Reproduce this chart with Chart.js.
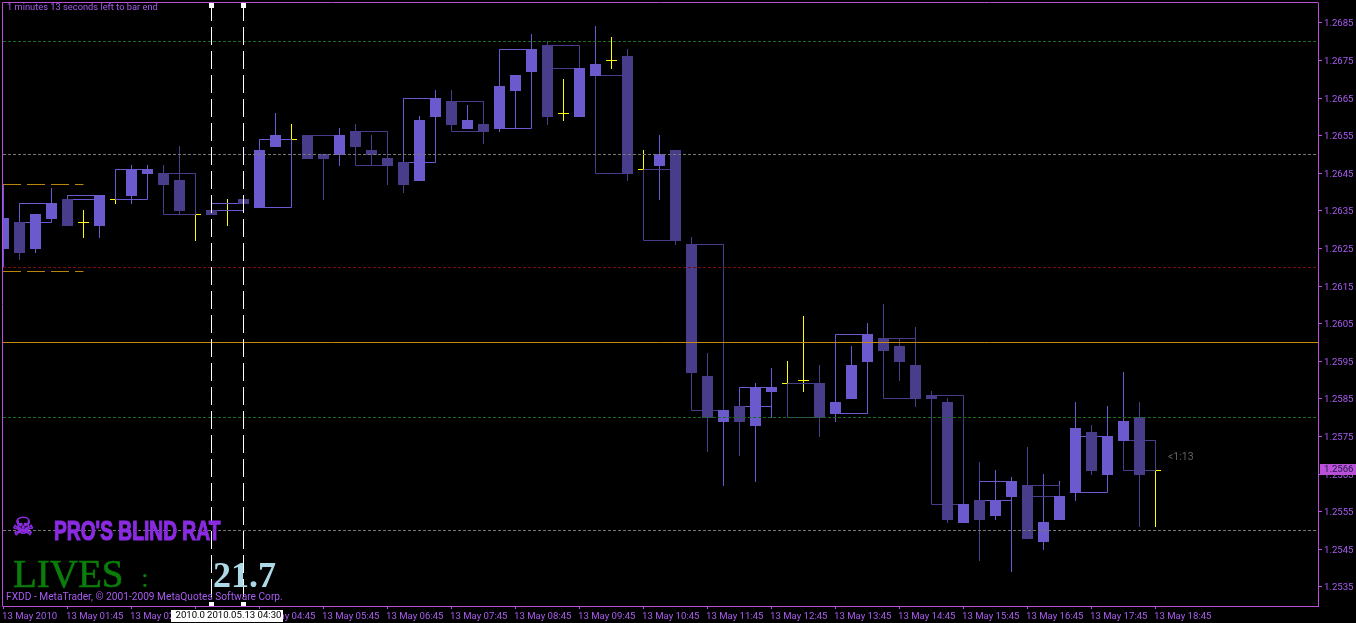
<!DOCTYPE html>
<html>
<head>
<meta charset="utf-8">
<title>EURUSD M15</title>
<script src="https://cdn.jsdelivr.net/npm/chart.js@4/dist/chart.umd.min.js"></script>
<style>
html, body { margin: 0; padding: 0; background: #000; overflow: hidden; }
canvas { display: block; }
</style>
</head>
<body>
<canvas id="priceChart" width="1356" height="623"></canvas>
<script>
const opens = [1.2625,1.2632,1.2625,1.2633,1.2638,1.2632,1.2631,1.2638,1.2639,1.2645,1.2645,1.2643,1.2634,1.2635,1.2635,1.2638,1.2636,1.2652,1.2654,1.2655,1.2650,1.2650,1.2656,1.2651,1.2649,1.2648,1.2643,1.2660,1.2664,1.2657,1.2658,1.2657,1.2667,1.2672,1.2679,1.2661,1.2660,1.2671,1.2675,1.2676,1.2646,1.2647,1.2651,1.2626,1.2591,1.2579,1.2583,1.2578,1.2587,1.2589,1.2590,1.2589,1.2581,1.2585,1.2595,1.2601,1.2599,1.2594,1.2586,1.2584,1.2552,1.2558,1.2554,1.2559,1.2562,1.2547,1.2553,1.2560,1.2576,1.2565,1.2574,1.2580,1.2566];
const highs = [1.2642,1.2632,1.2634,1.2641,1.2638,1.2635,1.2639,1.2638,1.2647,1.2647,1.2647,1.2652,1.2640,1.2635,1.2638,1.2638,1.2651,1.2661,1.2658,1.2655,1.2650,1.2657,1.2658,1.2655,1.2649,1.2648,1.2660,1.2667,1.2667,1.2663,1.2658,1.2668,1.2671,1.2682,1.2680,1.2670,1.2673,1.2684,1.2681,1.2678,1.2651,1.2655,1.2651,1.2628,1.2597,1.2582,1.2583,1.2589,1.2593,1.2595,1.2607,1.2594,1.2584,1.2599,1.2605,1.2610,1.2601,1.2604,1.2587,1.2585,1.2557,1.2568,1.2566,1.2564,1.2572,1.2565,1.2563,1.2584,1.2578,1.2583,1.2592,1.2584,1.2566];
const lows = [1.2620,1.2622,1.2624,1.2633,1.2631,1.2628,1.2628,1.2637,1.2637,1.2645,1.2642,1.2634,1.2627,1.2634,1.2631,1.2637,1.2636,1.2652,1.2650,1.2649,1.2638,1.2647,1.2652,1.2647,1.2642,1.2640,1.2643,1.2660,1.2658,1.2657,1.2653,1.2656,1.2657,1.2672,1.2658,1.2659,1.2660,1.2671,1.2673,1.2643,1.2643,1.2638,1.2626,1.2592,1.2571,1.2562,1.2570,1.2563,1.2580,1.2585,1.2587,1.2575,1.2579,1.2585,1.2595,1.2598,1.2590,1.2583,1.2585,1.2552,1.2552,1.2542,1.2553,1.2539,1.2548,1.2545,1.2553,1.2558,1.2565,1.2565,1.2574,1.2551,1.2551];
const closes = [1.2633,1.2624,1.2634,1.2637,1.2631,1.2632,1.2639,1.2638,1.2646,1.2646,1.2642,1.2635,1.2634,1.2634,1.2635,1.2637,1.2651,1.2655,1.2654,1.2649,1.2649,1.2655,1.2652,1.2650,1.2647,1.2642,1.2659,1.2665,1.2658,1.2659,1.2656,1.2668,1.2671,1.2678,1.2660,1.2661,1.2673,1.2674,1.2675,1.2645,1.2646,1.2650,1.2627,1.2592,1.2580,1.2582,1.2579,1.2588,1.2588,1.2589,1.2590,1.2580,1.2584,1.2594,1.2602,1.2598,1.2595,1.2585,1.2585,1.2553,1.2557,1.2553,1.2558,1.2563,1.2548,1.2552,1.2559,1.2577,1.2566,1.2575,1.2579,1.2565,1.2566];

const xTickBars = [0,4,8,12,16,20,24,28,32,36,40,44,48,52,56,60,64,68,72];
const xTickLabels = ['13 May 2010','13 May 01:45','13 May 02:45','13 May 03:45','13 May 04:45','13 May 05:45','13 May 06:45','13 May 07:45','13 May 08:45','13 May 09:45','13 May 10:45','13 May 11:45','13 May 12:45','13 May 13:45','13 May 14:45','13 May 15:45','13 May 16:45','13 May 17:45','13 May 18:45'];
const yTickValues = [1.2685,1.2675,1.2665,1.2655,1.2645,1.2635,1.2625,1.2615,1.2605,1.2595,1.2585,1.2575,1.2565,1.2555,1.2545,1.2535];

// horizontal levels on the chart
const greenLevels = [1.2680, 1.2580];
const grayLevels = [1.2650, 1.2550];
const redLevels = [1.2620];
const solidLevel = 1.2600;
const dayLevels = [1.2642, 1.2619];
const dayLevelEnd = 5;
const markerBars = [13, 15];

const yMin = 1.252992, yMax = 1.269029;
const xMin = -0.03125, xMax = 82.15625;
const handleTop = 1.268957, handleBottom = 1.253037;

const LIGHT = '#6a5acd', DARK = '#483d8b', YELLOW = '#ffff00';
const FRAME = '#ba4fd8', LABEL = '#a85cf0';
const AXIS_FONT = { family: 'Roboto', size: 9.6 };

const bars = opens.map((o, i) => i);
const candleColor = i => closes[i] > opens[i] ? LIGHT : closes[i] < opens[i] ? DARK : YELLOW;
const bodyBars = bars.filter(i => opens[i] !== closes[i]);
const dojiBars = bars.filter(i => opens[i] === closes[i]);

function hLine(value, color, dash, endBar) {
    return {
        type: 'line', order: 10, borderColor: color, borderWidth: 1, borderDash: dash,
        pointRadius: 0, data: [{ x: xMin, y: value }, { x: endBar === undefined ? xMax : endBar, y: value }]
    };
}

const datasets = [];

// wicks
datasets.push({
    type: 'bar', order: 50, grouped: false, barThickness: 0.001, inflateAmount: 0.5,
    backgroundColor: bars.map(candleColor),
    data: bars.map(i => ({ x: i, y: [lows[i], highs[i]] }))
});

// doji bars have no body, only the flat tick
datasets.push({
    type: 'scatter', order: 40, pointStyle: 'line', pointRadius: 5.5, pointBorderColor: YELLOW,
    pointBorderWidth: 1, showLine: false,
    data: dojiBars.map(i => ({ x: i, y: closes[i] }))
});

// 45 minute boxes, open to close of every three bars
for (let first = 1; first + 2 < opens.length; first += 3) {
    const last = first + 2;
    const o = opens[first], c = closes[last];
    datasets.push({
        type: 'line', order: 30, borderColor: c > o ? LIGHT : DARK, borderWidth: 1, pointRadius: 0,
        data: [{ x: first, y: o }, { x: last, y: o }, { x: last, y: c }, { x: first, y: c }, { x: first, y: o }]
    });
}

// bodies
datasets.push({
    type: 'bar', order: 20, grouped: false, barThickness: 10, inflateAmount: 0.5,
    backgroundColor: bodyBars.map(candleColor),
    data: bodyBars.map(i => ({ x: i, y: [Math.min(opens[i], closes[i]), Math.max(opens[i], closes[i])] }))
});

greenLevels.forEach(v => datasets.push(hLine(v, '#1c6a1c', [3, 2])));
grayLevels.forEach(v => datasets.push(hLine(v, '#777777', [3, 2])));
redLevels.forEach(v => datasets.push(hLine(v, '#7d0a0a', [3, 2])));
dayLevels.forEach(v => datasets.push(hLine(v, '#b8860b', [18, 6], dayLevelEnd)));
datasets.push(hLine(solidLevel, '#c8880c', []));

// the two dragged time markers with their square handles
markerBars.forEach(bar => datasets.push({
    type: 'line', order: 5, borderColor: '#ffffff', borderWidth: 1, borderDash: [18, 6], borderDashOffset: 2.5,
    pointStyle: 'rect', pointRadius: 3.54, pointBackgroundColor: '#ffffff', pointBorderWidth: 0,
    data: [{ x: bar, y: handleTop }, { x: bar, y: handleBottom }]
}));

// keep everything on whole pixel rows like the terminal does
const pixelRows = {
    id: 'pixelRows',
    afterLayout(chart) {
        const y = chart.scales.y;
        if (y._rowsWrapped) return;
        const orig = y.getPixelForValue.bind(y);
        y.getPixelForValue = v => Math.floor(orig(v)) + 0.5;
        y._rowsWrapped = true;
    }
};

function put(ctx, text, x, y, font, color, baseline) {
    ctx.font = font;
    ctx.fillStyle = color;
    ctx.textBaseline = baseline || 'middle';
    ctx.textAlign = 'left';
    ctx.fillText(text, x, y);
}

// same as put, with an outline to fatten thin letters
function putHeavy(ctx, text, x, y, font, color, weight, baseline) {
    put(ctx, text, x, y, font, color, baseline);
    ctx.strokeStyle = color;
    ctx.lineWidth = weight;
    ctx.strokeText(text, x, y);
}

const overlay = {
    id: 'overlay',
    afterDraw(chart) {
        const ctx = chart.ctx;
        ctx.save();
        ctx.strokeStyle = FRAME;
        ctx.lineWidth = 1;
        ctx.beginPath();
        ctx.moveTo(2.5, 606.5); ctx.lineTo(2.5, 2.5); ctx.lineTo(1318.5, 2.5);
        ctx.stroke();

        put(ctx, '1 minutes 13 seconds left to bar end', 7, 8, '9.3px Roboto', LABEL);
        put(ctx, 'FXDD - MetaTrader, \u00a9 2001-2009 MetaQuotes Software Corp.', 6, 597, '10.2px Roboto', LABEL);
        put(ctx, '<1:13', 1168, 457.5, '10.5px Roboto', '#626262');

        putHeavy(ctx, '\u2620', 12, 528, '25px "DejaVu Sans"', '#8a2be2', 0.8);

        // squeezed bold face standing in for the logo lettering
        ctx.save();
        ctx.translate(54, 540);
        ctx.scale(0.686, 1);
        putHeavy(ctx, "PRO'S BLIND RAT", 0, 0, 'bold 28px "Liberation Sans"', '#8a2be2', 1.2, 'alphabetic');
        ctx.restore();

        putHeavy(ctx, 'LIVES', 13, 587, '39px "Liberation Serif"', '#0a7d0a', 0.6, 'alphabetic');
        put(ctx, ':', 141, 587, '28px "Liberation Serif"', '#0a7d0a', 'alphabetic');
        put(ctx, '21.7', 213, 587, 'bold 36px "Liberation Serif"', '#add8e6', 'alphabetic');

        ctx.fillStyle = '#ffffff';
        ctx.fillRect(171, 610, 112, 12);
        put(ctx, '2010.0', 175.5, 616, '9.6px Roboto', '#000000');
        ctx.fillStyle = '#ffffff';
        ctx.fillRect(205, 610, 78, 12);
        put(ctx, '2010.05.13 04:30', 207, 616, '9.6px Roboto', '#000000');

        ctx.fillStyle = FRAME;
        ctx.fillRect(1320, 464, 36, 11);
        put(ctx, '1.2566', 1324, 470, '9.6px Roboto', '#1c1c44');
        ctx.restore();
    }
};

const ctx = document.getElementById('priceChart');
const myChart = new Chart(ctx, {
    data: { datasets: datasets },
    plugins: [pixelRows, overlay],
    options: {
        responsive: false,
        animation: false,
        events: [],
        layout: { autoPadding: false, padding: { left: 3, top: 3, right: 0, bottom: 0 } },
        plugins: { legend: { display: false }, tooltip: { enabled: false } },
        scales: {
            x: {
                type: 'linear', position: 'bottom', min: xMin, max: xMax, offset: false,
                afterBuildTicks: s => { s.ticks = xTickBars.map(v => ({ value: v })); },
                afterFit: s => { s.height = 17; s.paddingLeft = 0; s.paddingRight = 0; },
                grid: { drawOnChartArea: false, offset: false, tickColor: FRAME, tickLength: 3 },
                border: { color: FRAME },
                ticks: {
                    color: LABEL, font: AXIS_FONT, align: 'start', padding: 2, labelOffset: -1.5, maxRotation: 0, autoSkip: false,
                    callback: v => xTickLabels[xTickBars.indexOf(v)]
                }
            },
            y: {
                type: 'linear', position: 'right', min: yMin, max: yMax,
                afterBuildTicks: s => { s.ticks = yTickValues.map(v => ({ value: v })); },
                afterFit: s => { s.width = 38; s.paddingTop = 0; s.paddingBottom = 0; },
                grid: { drawOnChartArea: false, tickColor: FRAME, tickLength: 4 },
                border: { color: FRAME },
                ticks: {
                    color: LABEL, font: AXIS_FONT, padding: 2, labelOffset: 1, autoSkip: false,
                    callback: v => v.toFixed(4)
                }
            }
        }
    }
});
</script>
</body>
</html>
